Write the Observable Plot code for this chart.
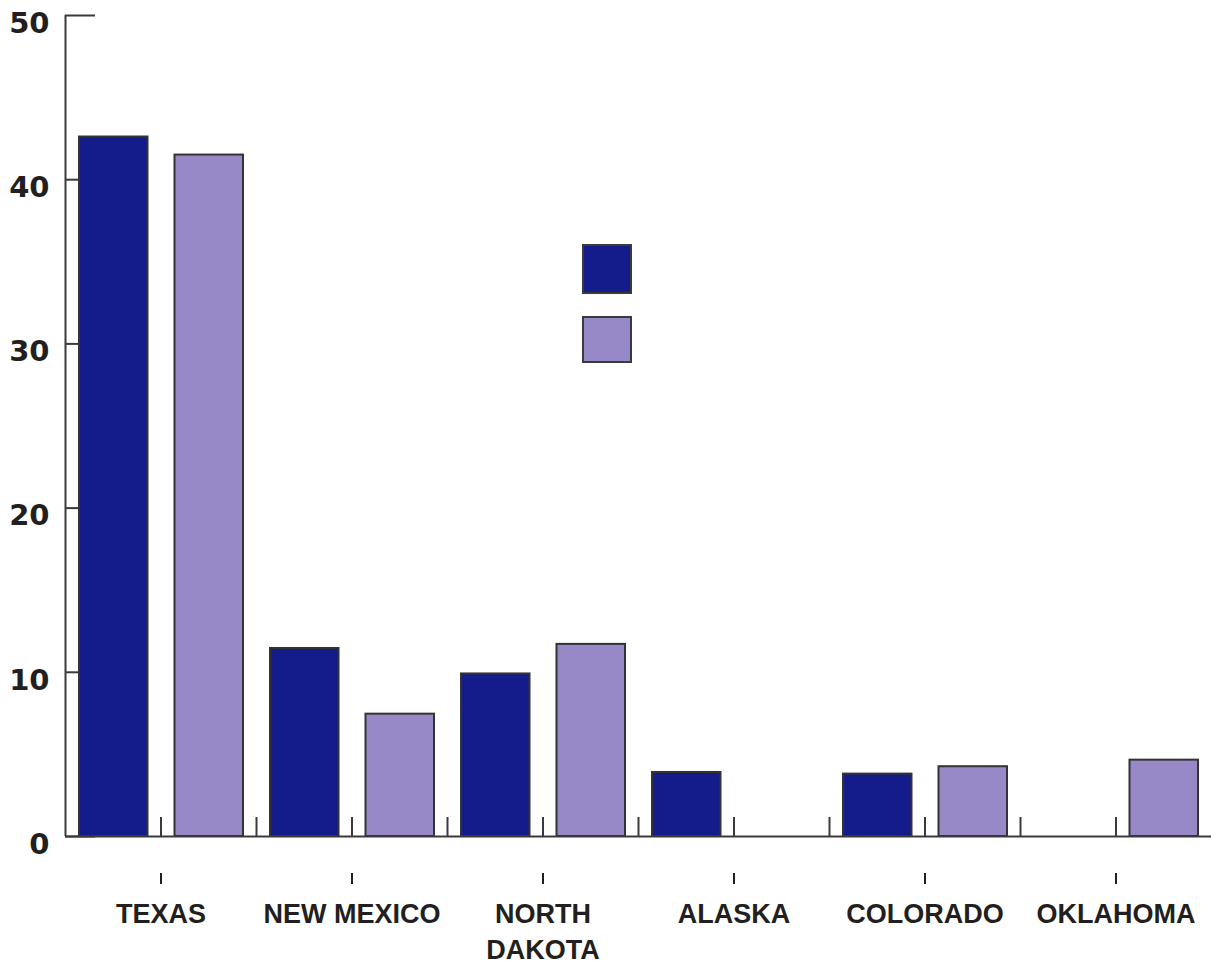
<!DOCTYPE html>
<html><head><meta charset="utf-8">
<script src="https://cdn.jsdelivr.net/npm/d3@7"></script>
<script src="https://cdn.jsdelivr.net/npm/@observablehq/plot@0.6"></script>
<style>
body{margin:0;background:#fff;}
#wrap{position:relative;width:1211px;height:964px;}
.sw{position:absolute;left:582px;width:50px;box-sizing:border-box;border:2px solid #3a3a3a;}
</style></head><body>
<div id="wrap"></div>
<script>
const states = ["TEXAS","NEW MEXICO","NORTH DAKOTA","ALASKA","COLORADO","OKLAHOMA"];
const stateLabels = ["TEXAS","NEW MEXICO","NORTH\nDAKOTA","ALASKA","COLORADO","OKLAHOMA"];
const seriesA = [42.6, 11.45, 9.9, 3.9, 3.8, 0];
const seriesB = [41.5, 7.45, 11.7, 0, 4.25, 4.65];
const seriesNames = ["A","B"];
const seriesColors = ["#141c8c","#9788c8"];
const yTicks = [0,10,20,30,40,50];

const rows = [];
states.forEach((s,i)=>{
  [seriesA, seriesB].forEach((arr,j)=>{
    rows.push({state:s, series:seriesNames[j], value:arr[i], pos:2*i+j});
  });
});
const gapTicks = d3.range(1, rows.length);
const groupTicks = states.map((s,i)=>2*i+1);

const chart = Plot.plot({
  width:1211, height:964,
  marginTop:15, marginBottom:128, marginLeft:65, marginRight:0,
  style:{background:"white", color:"#231f20", fontFamily:"Liberation Sans"},
  x:{type:"linear", domain:[0, rows.length], axis:null},
  y:{domain:[0,50], axis:null},
  color:{domain:seriesNames, range:seriesColors},
  marks:[
    Plot.axisY({ticks:yTicks, tickSize:-30, text:null, label:null, color:"#3a3a3a", strokeWidth:2}),
    Plot.axisY({ticks:yTicks, tickSize:0, tickPadding:16, dy:8, label:null, fontSize:29, fontWeight:"bold", fontFamily:"DejaVu Sans", color:"#231f20"}),
    Plot.axisX({ticks:gapTicks, tickSize:-19, text:null, label:null, color:"#3a3a3a", strokeWidth:2}),
    Plot.axisX({ticks:groupTicks, tickSize:11, dy:37, tickPadding:14, label:null, tickFormat:d=>stateLabels[(d-1)/2],
      fontSize:27, fontWeight:"bold", lineHeight:1.3, color:"#231f20", strokeWidth:2}),
    Plot.rectY(rows, {filter:d=>d.value>0, x:"pos", interval:1, y:"value", fill:"series",
      stroke:"#333", strokeWidth:2, insetLeft:14, insetRight:13}),
    Plot.ruleX([0], {y1:0, y2:50, stroke:"#3a3a3a", strokeWidth:2}),
    Plot.ruleY([0], {stroke:"#3a3a3a", strokeWidth:2})
  ]
});
const wrap = document.getElementById("wrap");
wrap.appendChild(chart);
const sw1 = document.createElement("div");
sw1.className="sw"; sw1.style.top="244px"; sw1.style.height="50px"; sw1.style.background=seriesColors[0];
const sw2 = document.createElement("div");
sw2.className="sw"; sw2.style.top="316px"; sw2.style.height="47px"; sw2.style.background=seriesColors[1];
wrap.appendChild(sw1); wrap.appendChild(sw2);
</script>
</body></html>
